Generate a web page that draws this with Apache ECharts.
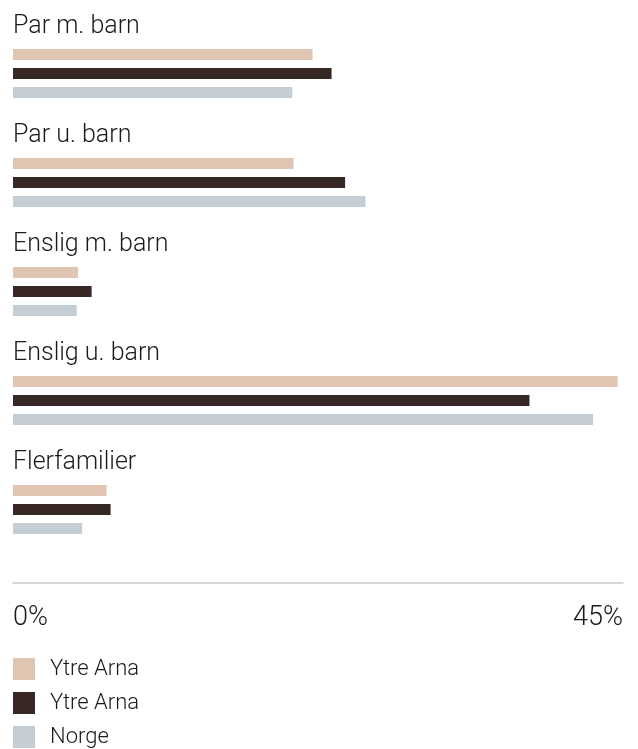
<!DOCTYPE html>
<html>
<head>
<meta charset="utf-8">
<style>
  html, body { margin: 0; padding: 0; background: #fff; }
  #main { width: 638px; height: 749px; }
</style>
<script src="https://cdn.jsdelivr.net/npm/echarts@6/dist/echarts.min.js"></script>
</head>
<body>
<div id="main"></div>
<script>
var myChart = echarts.init(document.getElementById('main'));

var categories = ['Par m. barn', 'Par u. barn', 'Enslig m. barn', 'Enslig u. barn', 'Flerfamilier'];
var ytreArnaA = [22.1, 20.7, 4.8, 44.6, 6.9];
var ytreArnaB = [23.5, 24.5, 5.8, 38.1, 7.2];
var norge = [20.6, 26.0, 4.7, 42.8, 5.1];
var legendLabels = ['Ytre Arna', 'Ytre Arna', 'Norge'];
var xMin = 0;
var xMax = 45;

var colors = ['#dfc5b2', '#372725', '#c5ced4'];
var font = 'Roboto';
var weight = 300;

function makeSeries(i, data) {
    return {
        name: 's' + i,
        type: 'bar',
        data: data,
        barWidth: 11,
        barGap: '73%',
        itemStyle: { color: colors[i] },
        silent: true
    };
}

var option = {
    animation: false,
    backgroundColor: '#fff',
    textStyle: { fontFamily: font },
    grid: {
        left: 13,
        right: 15,
        top: 19,
        bottom: 185,
        containLabel: false
    },
    legend: {
        orient: 'vertical',
        left: 13,
        top: 658,
        padding: 0,
        icon: 'rect',
        itemWidth: 22,
        itemHeight: 22,
        itemGap: 12,
        selectedMode: false,
        data: ['s0', 's1', 's2'],
        formatter: function (name) {
            return legendLabels[Number(name.slice(1))];
        },
        textStyle: {
            fontFamily: font,
            fontWeight: weight,
            fontSize: 22,
            color: '#1a1a1a',
            padding: [0, 0, 0, 10]
        }
    },
    xAxis: {
        type: 'value',
        min: xMin,
        max: xMax,
        interval: 45,
        offset: 19,
        splitLine: { show: false },
        axisTick: { show: false },
        axisLine: {
            show: true,
            lineStyle: { color: '#cacaca', width: 1.5 }
        },
        axisLabel: {
            formatter: '{value}%',
            fontFamily: font,
            fontWeight: weight,
            fontSize: 27,
            color: '#1a1a1a',
            margin: 22,
            alignMinLabel: 'left',
            alignMaxLabel: 'right'
        }
    },
    yAxis: {
        type: 'category',
        data: categories,
        inverse: true,
        axisLine: { show: false },
        axisTick: { show: false },
        splitLine: { show: false },
        axisLabel: {
            inside: true,
            interval: 0,
            margin: 0,
            align: 'left',
            verticalAlign: 'middle',
            // second empty line pushes the name up above its bar group
            formatter: function (value) {
                return '{a|' + value + '}\n{b| }';
            },
            rich: {
                a: { fontFamily: font, fontWeight: weight, fontSize: 25, lineHeight: 30, color: '#1a1a1a' },
                b: { fontSize: 10, lineHeight: 93 }
            }
        }
    },
    series: [
        makeSeries(0, ytreArnaA),
        makeSeries(1, ytreArnaB),
        makeSeries(2, norge)
    ]
};

myChart.setOption(option);
</script>
</body>
</html>
